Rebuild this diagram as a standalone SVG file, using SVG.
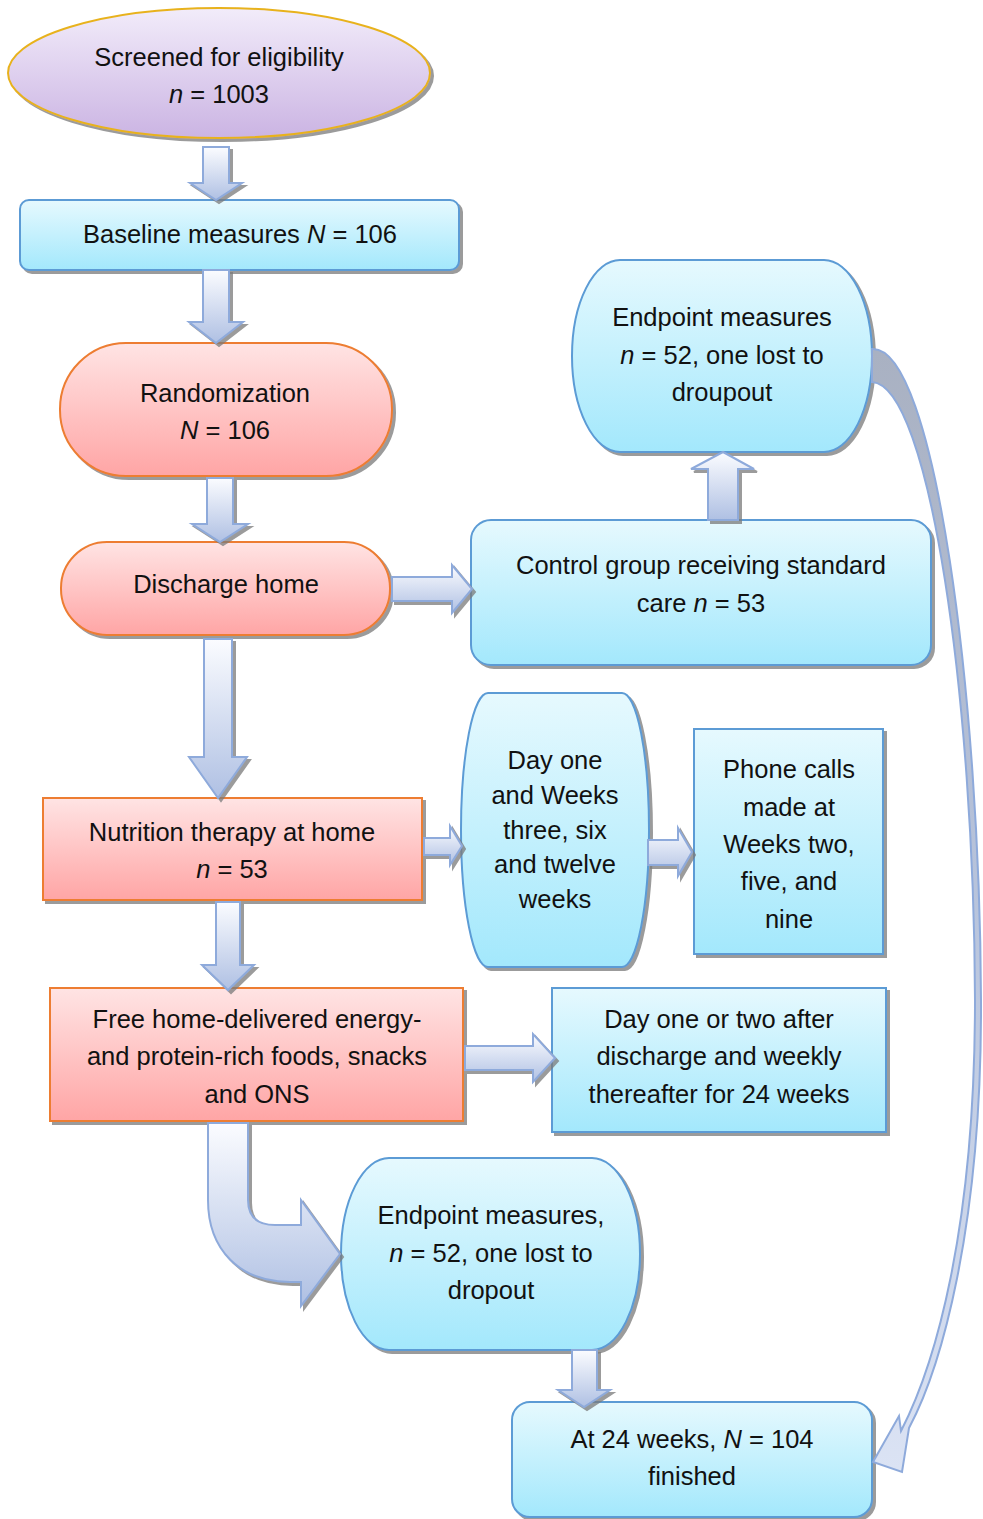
<svg xmlns="http://www.w3.org/2000/svg" width="983" height="1519" viewBox="0 0 983 1519">
<defs>
<linearGradient id="gBlue" x1="0" y1="0" x2="0" y2="1"><stop offset="0" stop-color="#e6f9fe"/><stop offset="1" stop-color="#a3e8fc"/></linearGradient>
<linearGradient id="gPink" x1="0" y1="0" x2="0" y2="1"><stop offset="0" stop-color="#ffe4e4"/><stop offset="1" stop-color="#ffa5a5"/></linearGradient>
<linearGradient id="gLav" x1="0" y1="0" x2="0" y2="1"><stop offset="0" stop-color="#f2ecfa"/><stop offset="1" stop-color="#cbb4e3"/></linearGradient>
<linearGradient id="gArr" x1="0" y1="0" x2="0" y2="1"><stop offset="0" stop-color="#fbfcff"/><stop offset="1" stop-color="#afc0e3"/></linearGradient>
<linearGradient id="gCurve" gradientUnits="userSpaceOnUse" x1="0" y1="350" x2="0" y2="1470"><stop offset="0" stop-color="#a9b1c2"/><stop offset="0.5" stop-color="#b8c4dc"/><stop offset="1" stop-color="#dbe3f4"/></linearGradient>
<filter id="sh" x="-10%" y="-10%" width="130%" height="130%"><feDropShadow dx="3" dy="3" stdDeviation="0.7" flood-color="#7a7a7a" flood-opacity="0.75"/></filter>
</defs>
<style>
.blue{fill:url(#gBlue);stroke:#5b9bd5;stroke-width:2;filter:url(#sh)}
.pink{fill:url(#gPink);stroke:#ed7d31;stroke-width:2;filter:url(#sh)}
.lav{fill:url(#gLav);stroke:#e8b21e;stroke-width:2;filter:url(#sh)}
.arr{fill:url(#gArr);stroke:#8eaadb;stroke-width:2;stroke-linejoin:miter;filter:url(#sh)}
text{font-family:"Liberation Sans",Arial,sans-serif;font-size:25.5px;fill:#111;text-anchor:middle}
.i{font-style:italic}
</style>
<rect width="983" height="1519" fill="#ffffff"/>

<g id="n-screened">
<ellipse class="lav" cx="219" cy="73" rx="211" ry="65"/>
<text x="219" y="66">Screened for eligibility</text>
<text x="219" y="103"><tspan class="i">n</tspan> = 1003</text>
</g>
<g id="n-baseline">
<rect class="blue" x="20" y="200" width="439" height="70" rx="9"/>
<text x="240" y="243">Baseline measures <tspan class="i">N</tspan> = 106</text>
</g>
<g id="n-random">
<rect class="pink" x="60" y="343" width="332" height="133" rx="66"/>
<text x="225" y="402">Randomization</text>
<text x="225" y="439"><tspan class="i">N</tspan> = 106</text>
</g>
<g id="n-discharge">
<rect class="pink" x="61" y="542" width="329" height="93" rx="46"/>
<text x="226" y="593">Discharge home</text>
</g>
<g id="n-control">
<rect class="blue" x="471" y="520" width="460" height="145" rx="20"/>
<text x="701" y="574">Control group receiving standard</text>
<text x="701" y="612">care <tspan class="i">n</tspan> = 53</text>
</g>
<g id="n-endpoint-control">
<rect class="blue" x="572" y="260" width="300" height="192" rx="48" ry="96"/>
<text x="722" y="326">Endpoint measures</text>
<text x="722" y="364"><tspan class="i">n</tspan> = 52, one lost to</text>
<text x="722" y="401">droupout</text>
</g>
<g id="n-nutrition">
<rect class="pink" x="43" y="798" width="379" height="102"/>
<text x="232" y="841">Nutrition therapy at home</text>
<text x="232" y="878"><tspan class="i">n</tspan> = 53</text>
</g>
<g id="n-dayone">
<rect class="blue" x="461" y="693" width="188" height="274" rx="27" ry="137"/>
<text x="555" y="769">Day one</text>
<text x="555" y="804">and Weeks</text>
<text x="555" y="839">three, six</text>
<text x="555" y="873">and twelve</text>
<text x="555" y="908">weeks</text>
</g>
<g id="n-phone">
<rect class="blue" x="694" y="729" width="189" height="225"/>
<text x="789" y="778">Phone calls</text>
<text x="789" y="816">made at</text>
<text x="789" y="853">Weeks two,</text>
<text x="789" y="890">five, and</text>
<text x="789" y="928">nine</text>
</g>
<g id="n-free">
<rect class="pink" x="50" y="988" width="413" height="133"/>
<text x="257" y="1028">Free home-delivered energy-</text>
<text x="257" y="1065">and protein-rich foods, snacks</text>
<text x="257" y="1103">and ONS</text>
</g>
<g id="n-dayonetwo">
<rect class="blue" x="552" y="988" width="334" height="144"/>
<text x="719" y="1028">Day one or two after</text>
<text x="719" y="1065">discharge and weekly</text>
<text x="719" y="1103">thereafter for 24 weeks</text>
</g>
<g id="n-endpoint-int">
<rect class="blue" x="341" y="1158" width="299" height="192" rx="48" ry="96"/>
<text x="491" y="1224">Endpoint measures,</text>
<text x="491" y="1262"><tspan class="i">n</tspan> = 52, one lost to</text>
<text x="491" y="1299">dropout</text>
</g>
<g id="n-final">
<rect class="blue" x="512" y="1402" width="360" height="115" rx="18"/>
<text x="692" y="1448">At 24 weeks, <tspan class="i">N</tspan> = 104</text>
<text x="692" y="1485">finished</text>
</g>

<g id="connectors">
<path class="arr" d="M203 147 H229 V183 H242 L216 200 L190 183 H203 Z"/>
<path class="arr" d="M203 270 H229 V322 H243 L216 343 L189 322 H203 Z"/>
<path class="arr" d="M207 478 H233 V524 H248 L220 542 L192 524 H207 Z"/>
<path class="arr" d="M392 577 H452 V565 L472 589 L452 613 V601 H392 Z"/>
<path class="arr" d="M708 520 V469 H691 L723 452 L754 469 H738 V520 Z"/>
<path class="arr" d="M204 639 H232 V757 H247 L218 798 L189 757 H204 Z"/>
<path class="arr" d="M424 838 H450 V826 L462 846 L450 865 V855 H424 Z"/>
<path class="arr" d="M648 840 H678 V828 L692 852 L678 876 V865 H648 Z"/>
<path class="arr" d="M216 902 H240 V965 H254 L228 990 L202 965 H216 Z"/>
<path class="arr" d="M465 1046 H533 V1034 L555 1058 L533 1082 V1070 H465 Z"/>
<path class="arr" d="M208 1123 H248 V1200 Q248 1225 275 1225 H301 V1200 L340 1254 L301 1306 V1282 H290 C240 1282 208 1250 208 1200 Z"/>
<path class="arr" d="M572 1350 H597 V1390 H610 L584 1407 L558 1390 H572 Z"/>
<path d="M872 349 C935 345 980 700 981 1000 C982 1230 940 1370 909 1428 L902 1472 L873 1462 L899 1416 L901 1431 C935 1365 975 1230 975 1000 C974 700 930 385 872 382 Z" fill="url(#gCurve)" stroke="#8eaadb" stroke-width="2" stroke-linejoin="miter"/>
</g>
</svg>
